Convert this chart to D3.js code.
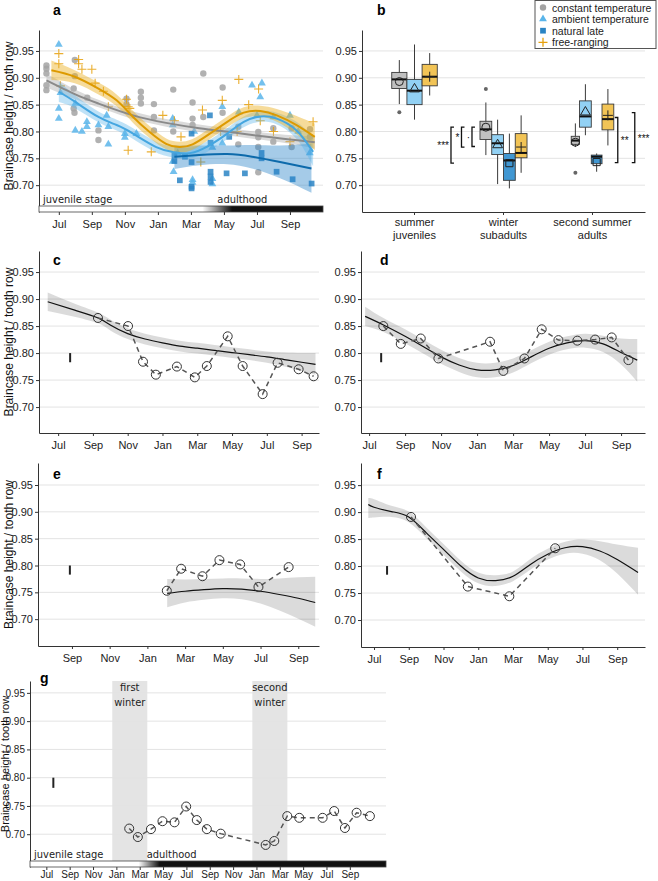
<!DOCTYPE html>
<html>
<head>
<meta charset="utf-8">
<script src="https://cdnjs.cloudflare.com/ajax/libs/d3/7.8.5/d3.min.js"></script>
<style>
  body { margin: 0; background: #fff; }
  svg { display: block; font-family: "Liberation Sans", Arial, sans-serif; }
  .note { font-family: "Liberation Sans Narrow", "DejaVu Sans Condensed", sans-serif; font-stretch: condensed; }
</style>
</head>
<body>
<svg id="chart" width="658" height="881"></svg>
<script>
// ---- shared ticks / labels ----
const yTicks = [0.70, 0.75, 0.80, 0.85, 0.90, 0.95];
const monthTicks = [0, 2, 4, 6, 8, 10, 12, 14];            // months since 1 July of birth year
const monthLabels = ["Jul", "Sep", "Nov", "Jan", "Mar", "May", "Jul", "Sep"];
const monthTicksLong = [0, 2, 4, 6, 8, 10, 12, 14, 16, 18, 20, 22, 24, 26];
const monthLabelsLong = ["Jul", "Sep", "Nov", "Jan", "Mar", "May", "Jul", "Sep", "Nov", "Jan", "Mar", "May", "Jul", "Sep"];
const yTitle = "Braincase height / tooth row";

const seriesNames = ["constant temperature", "ambient temperature", "natural late", "free-ranging"];
const seriesKeys = ["constant", "ambient", "late", "free"];

// ---- panel a: raw points [month, value] ----
const constA = [[-0.75,0.923],[-0.75,0.917],[-0.75,0.908],[-0.75,0.886],[-0.75,0.877],
  [0.97,0.933],[0.97,0.903],[0.9,0.880],[0.9,0.843],[0.95,0.835],[1.72,0.863],[2.4,0.802],[2.4,0.784],
  [4.1,0.861],[4.1,0.851],[4.97,0.874],[4.97,0.863],[4.97,0.852],[5.76,0.851],[5.76,0.827],[5.76,0.802],
  [6.93,0.878],[6.93,0.800],[8.1,0.854],[8.1,0.824],[8.1,0.812],[8.75,0.908],[8.75,0.827],
  [9.92,0.882],[9.92,0.835],[10.87,0.809],[10.87,0.776],[12.08,0.799],[12.08,0.789],[12.08,0.771],[12.08,0.724],
  [12.99,0.806],[12.99,0.781],[14.1,0.806],[14.1,0.771],[15.21,0.804],[15.21,0.790]];
const ambA = [[0.0,0.962],[0.0,0.843],[0.0,0.824],[0.1,0.872],[1.0,0.852],[1.0,0.802],[1.4,0.800],[1.7,0.818],
  [1.7,0.809],[2.4,0.812],[2.9,0.830],[3.0,0.809],[3.0,0.776],[4.0,0.796],[4.0,0.789],[4.7,0.796],
  [6.9,0.824],[6.9,0.812],[6.9,0.744],[6.95,0.725],[7.2,0.760],[8.1,0.705],[8.1,0.710],[8.2,0.800],
  [9.3,0.712],[9.3,0.702],[9.3,0.770],[9.9,0.846],[9.9,0.778],[10.9,0.836],[11.7,0.886],[12.3,0.890],
  [12.2,0.864],[12.0,0.830],[13.0,0.827],[14.0,0.830],[14.5,0.800],[15.2,0.760]];
const lateA = [[7.0,0.756],[7.0,0.745],[7.33,0.709],[7.64,0.753],[8.04,0.796],[8.04,0.743],[8.04,0.697],[8.04,0.694],
  [9.15,0.830],[9.19,0.779],[9.19,0.725],[9.19,0.716],[9.19,0.706],[10.16,0.722],[10.32,0.790],[11.27,0.722],
  [12.28,0.760],[12.28,0.750],[13.19,0.725],[14.16,0.711],[15.31,0.703]];
const freeA = [[0.0,0.945],[0.0,0.926],[0.1,0.885],[1.2,0.934],[1.2,0.926],[1.4,0.916],[2.0,0.916],[2.2,0.890],
  [2.7,0.875],[3.0,0.846],[4.1,0.860],[4.2,0.846],[4.3,0.843],[4.2,0.765],[5.6,0.762],[6.3,0.830],[7.0,0.820],
  [7.4,0.790],[8.7,0.840],[8.6,0.743],[9.9,0.858],[9.8,0.800],[10.9,0.897],[10.8,0.800],[11.5,0.850],
  [12.1,0.879],[12.2,0.820],[13.0,0.800],[14.0,0.781],[15.4,0.818]];

// ---- panel a: smoothers [month, fit, lower, upper] ----
const constFitA = [[-0.75,0.895,0.882,0.908],[1,0.869,0.860,0.878],[2.4,0.852,0.845,0.859],[4.5,0.830,0.823,0.837],
  [6.5,0.816,0.809,0.823],[8.5,0.806,0.799,0.813],[10.6,0.798,0.791,0.805],[12.6,0.790,0.783,0.797],
  [14.6,0.783,0.774,0.792],[15.5,0.780,0.768,0.792]];
const ambFitA = [[0,0.874,0.855,0.893],[1,0.855,0.843,0.867],[2.4,0.827,0.817,0.837],[3.5,0.812,0.802,0.822],
  [4.5,0.796,0.786,0.806],[5.9,0.771,0.761,0.781],[6.9,0.762,0.752,0.772],[7.7,0.759,0.749,0.769],
  [8.75,0.768,0.758,0.778],[10.2,0.796,0.786,0.806],[11.2,0.818,0.808,0.828],[12.2,0.828,0.818,0.838],
  [13.2,0.824,0.813,0.835],[14.4,0.802,0.786,0.818],[15.4,0.762,0.735,0.789]];
const lateFitA = [[7.0,0.753,0.730,0.774],[8.5,0.756,0.737,0.774],[10.2,0.758,0.739,0.774],[11.7,0.753,0.731,0.775],
  [13.4,0.743,0.713,0.774],[15.3,0.731,0.686,0.777]];
const freeFitA = [[-0.45,0.914,0.896,0.932],[0.97,0.902,0.890,0.914],[2.4,0.880,0.869,0.891],[3.5,0.858,0.847,0.869],
  [4.5,0.827,0.816,0.838],[5.5,0.799,0.788,0.810],[6.5,0.777,0.767,0.787],[7.3,0.771,0.761,0.781],
  [8.1,0.776,0.766,0.786],[9.15,0.796,0.786,0.806],[10.2,0.818,0.808,0.828],[11.2,0.835,0.825,0.845],
  [12.2,0.838,0.828,0.848],[13.2,0.830,0.818,0.842],[14.4,0.812,0.795,0.829],[15.5,0.790,0.765,0.815]];
const stageA = [8.7, 10.5];        // juvenile -> adult transition (months)

// ---- panel b: boxplots ----
const ageGroups = [["summer", "juveniles"], ["winter", "subadults"], ["second summer", "adults"]];
// [group, series, n, whiskerLow, q1, median, q3, whiskerHigh, mean]
const boxStats = [
  [0, "constant", 10, 0.851, 0.880, 0.897, 0.910, 0.933, 0.893],
  [0, "ambient", 10, 0.822, 0.850, 0.876, 0.897, 0.962, 0.879],
  [0, "free", 10, 0.867, 0.885, 0.902, 0.925, 0.946, 0.902],
  [1, "constant", 6, 0.756, 0.785, 0.804, 0.819, 0.854, 0.808],
  [1, "ambient", 6, 0.702, 0.757, 0.778, 0.794, 0.822, 0.775],
  [1, "late", 6, 0.694, 0.709, 0.746, 0.759, 0.796, 0.741],
  [1, "free", 6, 0.723, 0.751, 0.760, 0.796, 0.830, 0.771],
  [2, "constant", 3, 0.771, 0.776, 0.783, 0.791, 0.815, 0.780],
  [2, "ambient", 6, 0.793, 0.808, 0.828, 0.857, 0.888, 0.836],
  [2, "late", 5, 0.725, 0.740, 0.753, 0.756, 0.759, 0.743],
  [2, "free", 6, 0.774, 0.803, 0.823, 0.851, 0.879, 0.830]
];
const boxOutliers = [[0, "constant", 0.836], [1, "constant", 0.879], [2, "constant", 0.723]];
// [group, side, slot, from, to, label]
const sigBrackets = [
  [1, "left", 0, 0.808, 0.741, "***"],
  [1, "left", 1, 0.808, 0.771, "*"],
  [1, "left", 2, 0.808, 0.772, "·"],
  [2, "right", 0, 0.826, 0.742, "**"],
  [2, "right", 1, 0.835, 0.742, "***"]
];

// ---- panels c-g: individual tracks [month, value] and fits [month, fit, lower, upper] ----
const indC = [[2.29,0.865],[4.02,0.850],[4.88,0.784],[5.62,0.760],[6.83,0.775],[7.86,0.755],[8.55,0.776],
  [9.75,0.831],[10.61,0.776],[11.76,0.724],[12.62,0.782],[13.83,0.770],[14.69,0.757]];
const fitC = [[-0.6,0.895,0.878,0.912],[1,0.879,0.867,0.891],[2.3,0.865,0.855,0.875],[3,0.852,0.842,0.862],
  [4,0.836,0.826,0.846],[5,0.826,0.816,0.836],[6,0.819,0.809,0.829],[7,0.813,0.803,0.823],[8,0.809,0.799,0.819],
  [9,0.805,0.795,0.815],[10,0.801,0.791,0.811],[11,0.797,0.787,0.807],[12,0.793,0.782,0.803],
  [13,0.788,0.775,0.801],[14,0.783,0.767,0.800],[14.8,0.779,0.760,0.800]];
const indD = [[0.79,0.850],[1.76,0.817],[2.87,0.827],[3.85,0.790],[6.72,0.821],[7.46,0.767],[8.63,0.790],
  [9.59,0.844],[10.52,0.824],[11.57,0.823],[12.56,0.825],[13.48,0.829],[14.41,0.787]];
const fitD = [[-0.22,0.868,0.850,0.886],[0.8,0.852,0.839,0.865],[2,0.831,0.818,0.844],[3,0.812,0.799,0.825],
  [4,0.793,0.780,0.806],[5,0.778,0.765,0.791],[6,0.769,0.755,0.782],[7,0.769,0.755,0.782],[8,0.777,0.764,0.790],
  [9,0.793,0.781,0.805],[10,0.809,0.797,0.821],[11,0.819,0.807,0.831],[12,0.823,0.810,0.836],
  [13,0.817,0.802,0.832],[14,0.801,0.779,0.827],[14.9,0.787,0.747,0.826]];
const indE = [[7.03,0.753],[7.79,0.794],[8.92,0.780],[9.82,0.810],[10.92,0.802],[11.89,0.760],[13.49,0.797]];
const fitE = [[7.05,0.748,0.722,0.775],[8,0.752,0.731,0.774],[9,0.755,0.736,0.775],[10,0.757,0.739,0.776],
  [11,0.756,0.737,0.776],[12,0.752,0.729,0.775],[13,0.746,0.716,0.776],[14,0.739,0.701,0.778],[14.9,0.731,0.686,0.779]];
const indF = [[2.13,0.891],[5.40,0.762],[7.79,0.744],[10.43,0.833]];
const fitF = [[-0.33,0.914,0.889,0.926],[0,0.909,0.890,0.924],[1,0.901,0.891,0.912],[2,0.891,0.881,0.901],
  [3,0.862,0.852,0.872],[4,0.831,0.821,0.841],[5,0.800,0.790,0.810],[6,0.778,0.768,0.788],[7,0.773,0.763,0.783],
  [8,0.781,0.772,0.790],[9,0.803,0.793,0.813],[10,0.822,0.812,0.832],[11,0.834,0.823,0.845],[12,0.836,0.823,0.849],
  [13,0.828,0.811,0.846],[14,0.812,0.786,0.840],[15.2,0.788,0.747,0.834]];
const indG = [[7.10,0.710],[7.84,0.695],[8.96,0.709],[9.95,0.723],[10.98,0.721],[11.98,0.749],[12.89,0.725],
  [13.75,0.709],[14.94,0.701],[18.79,0.681],[19.53,0.688],[20.64,0.732],[21.67,0.729],[23.67,0.729],
  [24.66,0.741],[25.58,0.711],[26.58,0.738],[27.72,0.732]];
const winters = [[5.65, 8.65], [17.65, 20.65]];
const winterLabels = [["first", "winter"], ["second", "winter"]];
const stageG = [7.9, 9.7];
// measurement error bar [month, low, high]
const errC = [0.69, 0.783, 0.800], errD = [0.67, 0.783, 0.800], errE = [1.89, 0.783, 0.800],
      errF = [0.75, 0.784, 0.800], errG = [0.6, 0.782, 0.800];

// ---------- drawing ----------
let svg = d3.select("#chart");
let defs = svg.append("defs");

let colors = { constant: "#a3a3a3", ambient: "#5ab5ea", late: "#2a84c4", free: "#e6a00c" };
let lineColors = { constant: "#8a8a8a", ambient: "#45a6e0", late: "#0d6aab", free: "#dd9a00" };
let ribbonColors = { constant: "rgba(175,175,175,0.45)", ambient: "rgba(86,180,233,0.38)",
                     late: "rgba(40,130,200,0.42)", free: "rgba(235,175,30,0.45)" };
let boxFill = { constant: "#c0c0c0", ambient: "#92d1f4", late: "#4197d2", free: "#f2c456" };

let styleAxis = (sel, size) => {
  sel.attr("font-family", null).attr("font-size", null);
  sel.select(".domain").attr("stroke", "#333");
  sel.selectAll(".tick line").attr("stroke", "#333");
  sel.selectAll(".tick text").attr("fill", "#222").style("font-size", (size || 11) + "px");
};

let shape = (key, s) => {
  if (key === "constant") return d3.symbol(d3.symbolCircle, s * s * 3.14)();
  if (key === "ambient") return d3.symbol(d3.symbolTriangle, s * s * 2.6)();
  if (key === "late") return d3.symbol(d3.symbolSquare, s * s * 3.2)();
  return `M${-s},0H${s}M0,${-s}V${s}`;
};

let frame = (p) => {
  let x = d3.scaleLinear().domain(p.xDomain).range([p.left, p.right]);
  let y = d3.scaleLinear().domain(p.yDomain).range([p.bottom, p.top]);
  let fs = p.fontSize || 11;
  let g = svg.append("g");
  let back = g.append("g");
  g.append("g").selectAll("line").data(yTicks).enter().append("line")
    .attr("x1", p.left).attr("x2", p.right)
    .attr("y1", d => y(d)).attr("y2", d => y(d))
    .attr("stroke", "#e3e3e3").attr("stroke-width", 1);
  let yAx = g.append("g").attr("transform", `translate(${p.left},0)`)
    .call(d3.axisLeft(y).tickValues(yTicks).tickFormat(d3.format(".2f"))
      .tickSize(3).tickPadding(2).tickSizeOuter(0));
  styleAxis(yAx, fs);
  if (p.xTicks) {
    let ticks = p.xTicks.filter(d => d >= p.xDomain[0] && d <= p.xDomain[1]);
    let xAx = g.append("g").attr("transform", `translate(0,${p.bottom})`)
      .call(d3.axisBottom(x).tickValues(ticks).tickFormat(d => p.xLabels[p.xTicks.indexOf(d)])
        .tickSize(3).tickPadding(p.xPad || 5).tickSizeOuter(0));
    styleAxis(xAx, fs);
    if (p.noXLine) xAx.select(".domain").remove();
  }
  if (p.title) {
    g.append("text").attr("transform", "rotate(-90)")
      .attr("x", -(p.titleY || (p.top + p.bottom) / 2)).attr("y", p.titleX || 12.5)
      .attr("text-anchor", "middle").style("font-size", (fs + 1) + "px").attr("fill", "#111")
      .text(yTitle);
  }
  g.append("text").attr("x", p.tagX).attr("y", p.tagY)
    .style("font-size", "14px").style("font-weight", "bold").text(p.tag);
  let data = g.append("g");
  return { g, back, data, x, y };
};

let drawFit = (f, fit, fill, stroke, width) => {
  let area = d3.area().curve(d3.curveNatural)
    .x(d => f.x(d[0])).y0(d => f.y(d[2])).y1(d => f.y(d[3]));
  let line = d3.line().curve(d3.curveNatural)
    .x(d => f.x(d[0])).y(d => f.y(d[1]));
  f.data.append("path").datum(fit).attr("d", area).attr("fill", fill);
  return () => f.data.append("path").datum(fit).attr("d", line)
    .attr("fill", "none").attr("stroke", stroke).attr("stroke-width", width);
};

let drawStage = (f, stage, id, adultAt) => {
  let [x0, x1] = f.x.range();
  let yb = f.y.range()[0];
  let grad = defs.append("linearGradient").attr("id", id)
    .attr("gradientUnits", "userSpaceOnUse")
    .attr("x1", f.x(stage[0])).attr("x2", f.x(stage[1])).attr("y1", 0).attr("y2", 0);
  grad.append("stop").attr("offset", 0).attr("stop-color", "#fff");
  grad.append("stop").attr("offset", 1).attr("stop-color", "#111");
  f.data.append("rect").attr("x", x0).attr("y", yb - 6).attr("width", x1 - x0).attr("height", 6)
    .attr("fill", `url(#${id})`).attr("stroke", "#444").attr("stroke-width", 0.8);
  f.data.append("text").attr("class", "note").attr("x", x0 + 4).attr("y", yb - 9)
    .style("font-size", "11px").attr("fill", "#222").text("juvenile stage");
  f.data.append("text").attr("class", "note").attr("x", f.x(adultAt)).attr("y", yb - 9)
    .style("font-size", "11px").attr("fill", "#222").text("adulthood");
};

// ===== panel a =====
let fa = frame({ left: 39, right: 323, top: 30, bottom: 212, xDomain: [-1.2, 16.0], yDomain: [0.650, 0.989],
  xTicks: monthTicks, xLabels: monthLabels, noXLine: true, title: true, titleY: 116, tag: "a", tagX: 53, tagY: 15 });
let rawA = { constant: constA, ambient: ambA, late: lateA, free: freeA };
let fitsA = { constant: constFitA, ambient: ambFitA, late: lateFitA, free: freeFitA };
seriesKeys.forEach(k => {
  fa.data.append("g").selectAll("path").data(rawA[k]).enter().append("path")
    .attr("transform", d => `translate(${fa.x(d[0])},${fa.y(d[1])})`)
    .attr("d", shape(k, k === "free" ? 4.5 : 3.2))
    .attr("fill", k === "free" ? "none" : colors[k])
    .attr("stroke", k === "free" ? colors[k] : "none")
    .attr("stroke-width", 1.1).attr("opacity", 0.85);
});
let linesA = ["constant", "late", "ambient", "free"].map(k => drawFit(fa, fitsA[k], ribbonColors[k], lineColors[k], 2));
linesA.forEach(draw => draw());
drawStage(fa, stageA, "stageA", 9.6);

// ===== panel b =====
let fb = frame({ left: 362, right: 645, top: 30, bottom: 212, xDomain: [0, 1], yDomain: [0.650, 0.989],
  tag: "b", tagX: 377, tagY: 15 });
let band = d3.scaleBand().domain(d3.range(ageGroups.length)).range([362, 645]).paddingOuter(0.09);
let xbAx = fb.g.append("g").attr("transform", "translate(0,212)")
  .call(d3.axisBottom(band).tickSize(3).tickFormat("").tickSizeOuter(0));
styleAxis(xbAx);
ageGroups.forEach((lines, i) => {
  let t = fb.g.append("text").attr("text-anchor", "middle").style("font-size", "11px").attr("fill", "#222");
  lines.forEach((s, j) => t.append("tspan").attr("x", band(i) + band.bandwidth() / 2)
    .attr("y", 226 + j * 12.5).text(s));
});
let boxK = 4.8;
let groupEdges = {};
d3.range(ageGroups.length).forEach(gi => {
  let rows = boxStats.filter(r => r[0] === gi);
  let widths = rows.map(r => boxK * Math.sqrt(r[2]));
  let total = d3.sum(widths);
  let cx = band(gi) + band.bandwidth() / 2;
  let left = cx - total / 2;
  groupEdges[gi] = [left, left + total];
  rows.forEach((r, i) => {
    let [, key, , wlo, q1, med, q3, whi, mean] = r;
    let w = widths[i];
    let bx = left + d3.sum(widths.slice(0, i));
    let mx = bx + w / 2;
    let y = fb.y;
    fb.data.append("line").attr("x1", mx).attr("x2", mx).attr("y1", y(whi)).attr("y2", y(wlo))
      .attr("stroke", "#3a3a3a").attr("stroke-width", 1);
    fb.data.append("rect").attr("x", bx).attr("y", y(q3)).attr("width", w).attr("height", y(q1) - y(q3))
      .attr("fill", boxFill[key]).attr("stroke", "#3a3a3a").attr("stroke-width", 0.9);
    fb.data.append("line").attr("x1", bx).attr("x2", bx + w).attr("y1", y(med)).attr("y2", y(med))
      .attr("stroke", "#111").attr("stroke-width", 2);
    fb.data.append("path").attr("transform", `translate(${mx},${y(mean)})`)
      .attr("d", shape(key, key === "free" ? 5 : 4)).attr("fill", "none")
      .attr("stroke", "#222").attr("stroke-width", 1);
    boxOutliers.filter(o => o[0] === gi && o[1] === key).forEach(o => {
      fb.data.append("circle").attr("cx", mx).attr("cy", y(o[2])).attr("r", 2).attr("fill", "#666");
    });
  });
});
sigBrackets.forEach(([gi, side, slot, from, to, label]) => {
  let [gl, gr] = groupEdges[gi];
  let bx = side === "left" ? gl - 8 - (2 - slot) * 10.5 : gr + 4 + slot * 17;
  let dir = side === "left" ? 3 : -3;
  let y0 = fb.y(from), y1 = fb.y(to);
  fb.data.append("path").attr("d", `M${bx + dir},${y0}H${bx}V${y1}H${bx + dir}`)
    .attr("fill", "none").attr("stroke", "#111").attr("stroke-width", 1.3);
  fb.data.append("text").attr("x", side === "left" ? bx - 2 : bx + 3).attr("y", (y0 + y1) / 2 + 4)
    .attr("text-anchor", side === "left" ? "end" : "start")
    .style("font-size", "10px").attr("fill", "#111").text(label);
});
// legend
let lg = svg.append("g").attr("transform", "translate(535,0.5)");
lg.append("rect").attr("width", 121).attr("height", 48).attr("fill", "#fff").attr("stroke", "#555");
seriesKeys.forEach((k, i) => {
  let yy = 7 + i * 11.6;
  lg.append("path").attr("transform", `translate(8,${yy})`).attr("d", shape(k, k === "free" ? 4.5 : 3.2))
    .attr("fill", k === "free" ? "none" : colors[k]).attr("stroke", k === "free" ? colors[k] : "none")
    .attr("stroke-width", 1.3);
  lg.append("text").attr("x", 17).attr("y", yy + 4).style("font-size", "10.5px").attr("fill", "#222")
    .text(seriesNames[i]);
});

// ===== panels c-g =====
let drawTrack = (f, pts, fit, err) => {
  if (fit) drawFit(f, fit, "rgba(0,0,0,0.14)", "#111", 1.2)();
  f.data.append("path").datum(pts)
    .attr("d", d3.line().x(d => f.x(d[0])).y(d => f.y(d[1])))
    .attr("fill", "none").attr("stroke", "#555").attr("stroke-width", 1.5).attr("stroke-dasharray", "5,4");
  f.data.append("g").selectAll("circle").data(pts).enter().append("circle")
    .attr("cx", d => f.x(d[0])).attr("cy", d => f.y(d[1])).attr("r", 4.5)
    .attr("fill", "none").attr("stroke", "#333").attr("stroke-width", 1);
  f.data.append("line").attr("x1", f.x(err[0])).attr("x2", f.x(err[0]))
    .attr("y1", f.y(err[1])).attr("y2", f.y(err[2])).attr("stroke", "#222").attr("stroke-width", 2);
};

let fc = frame({ left: 39, right: 319, top: 251, bottom: 433, xDomain: [-1.1, 15.0], yDomain: [0.652, 0.989],
  xTicks: monthTicks, xLabels: monthLabels, title: true, tag: "c", tagX: 53, tagY: 265 });
drawTrack(fc, indC, fitC, errC);

let fd = frame({ left: 361, right: 645, top: 251, bottom: 433, xDomain: [-0.45, 15.33], yDomain: [0.652, 0.989],
  xTicks: monthTicks, xLabels: monthLabels, tag: "d", tagX: 380, tagY: 265 });
drawTrack(fd, indD, fitD, errD);

let fe = frame({ left: 38, right: 319, top: 463, bottom: 646, xDomain: [0.2, 15.1], yDomain: [0.650, 0.991],
  xTicks: monthTicks, xLabels: monthLabels, title: true, tag: "e", tagX: 53, tagY: 479 });
drawTrack(fe, indE, fitE, errE);

let ff = frame({ left: 361, right: 645, top: 463, bottom: 647, xDomain: [-0.75, 15.6], yDomain: [0.650, 0.991],
  xTicks: monthTicks, xLabels: monthLabels, tag: "f", tagX: 377, tagY: 479 });
drawTrack(ff, indF, fitF, errF);

let fg = frame({ left: 30, right: 386, top: 681, bottom: 867, xDomain: [-1.4, 29.1], yDomain: [0.642, 0.971],
  xTicks: monthTicksLong, xLabels: monthLabelsLong, noXLine: true, xPad: 1, fontSize: 10,
  title: true, titleX: 9, titleY: 764, tag: "g", tagX: 40, tagY: 683 });
winters.forEach((w, i) => {
  fg.back.append("rect").attr("x", fg.x(w[0])).attr("y", 681).attr("width", fg.x(w[1]) - fg.x(w[0]))
    .attr("height", 867 - 681).attr("fill", "#e4e4e4");
  let t = fg.back.append("text").attr("class", "note").attr("text-anchor", "middle")
    .style("font-size", "11px").attr("fill", "#222");
  winterLabels[i].forEach((s, j) => t.append("tspan").attr("x", fg.x((w[0] + w[1]) / 2))
    .attr("y", 691 + j * 15).text(s));
});
drawTrack(fg, indG, null, errG);
drawStage(fg, stageG, "stageG", 8.6);
</script>
</body>
</html>
